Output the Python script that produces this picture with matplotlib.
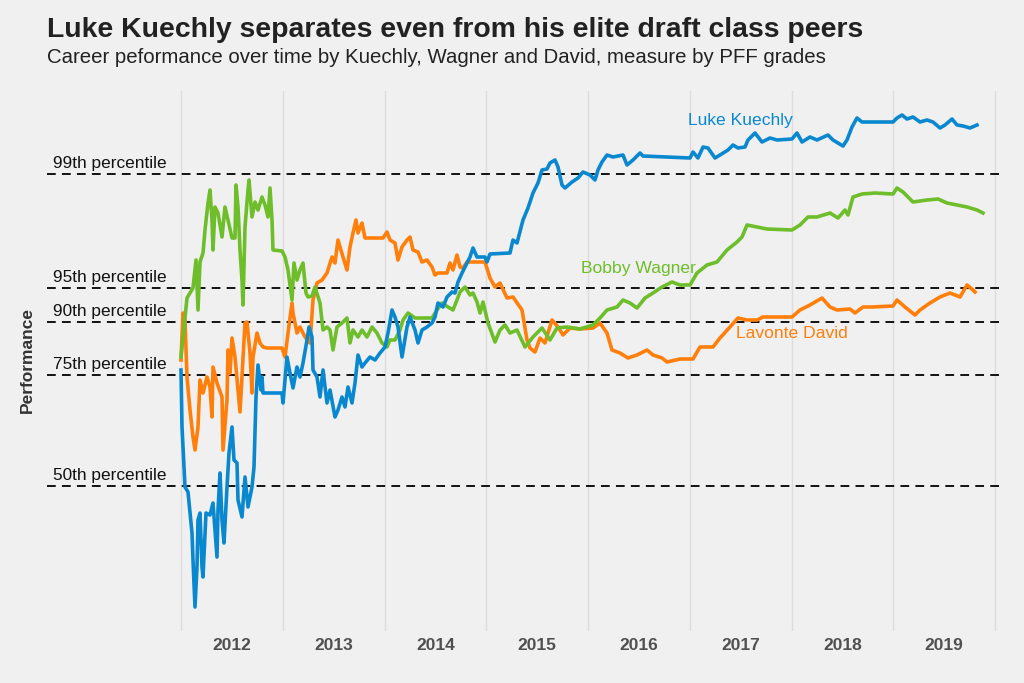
import matplotlib
matplotlib.use('Agg')
from matplotlib import pyplot as plt

# career timeline units (one season = 101.75) and performance index (higher is better)
SEASON_LEN = 101.75
seasons = ['2012', '2013', '2014', '2015', '2016', '2017', '2018', '2019']

pct_labels = ['99th percentile', '95th percentile', '90th percentile', '75th percentile', '50th percentile']
pct_levels = [509, 395, 361, 308, 197]

kuechly_x = [0, 1, 4, 7, 11, 12, 14, 16, 17, 19, 21, 22, 25, 29, 32, 36, 37, 39, 41, 43, 46, 48, 51, 53,
             56, 57, 61, 64, 67, 71, 73, 75, 77, 80, 81, 82, 101, 102, 106, 109, 112, 116, 119, 122, 126,
             128, 131, 132, 136, 139, 142, 146, 149, 154, 157, 161, 164, 167, 171, 174, 177, 181, 184, 189,
             194, 199, 204, 207, 211, 214, 217, 221, 226, 229, 234, 237, 241, 246, 251, 254, 257, 262, 266,
             271, 274, 277, 281, 284, 289, 292, 296, 304, 306, 309, 329, 332, 336, 342, 347, 352, 357, 361,
             366, 369, 374, 377, 381, 384, 391, 397, 402, 409, 414, 417, 421, 426, 432, 442, 446, 452, 459,
             462, 509, 512, 517, 522, 527, 534, 539, 547, 552, 557, 564, 567, 574, 581, 589, 596, 611, 616,
             621, 629, 636, 647, 652, 662, 666, 671, 676, 681, 687, 712, 716, 721, 726, 732, 739, 746, 752,
             759, 764, 771, 776, 782, 789, 796]
kuechly_y = [313, 256, 196, 191, 150, 123, 76, 116, 163, 170, 116, 106, 170, 168, 180, 126, 173, 210, 163,
             140, 196, 230, 256, 223, 220, 183, 166, 206, 176, 196, 216, 286, 318, 293, 306, 290, 290, 280,
             326, 310, 295, 316, 306, 320, 343, 356, 346, 313, 306, 286, 313, 280, 293, 266, 273, 286, 276,
             296, 280, 300, 328, 316, 320, 326, 323, 330, 336, 350, 373, 366, 356, 326, 356, 366, 353, 340,
             353, 356, 360, 366, 380, 376, 386, 391, 390, 401, 410, 416, 426, 435, 426, 426, 421, 429, 430,
             443, 440, 463, 475, 490, 500, 513, 514, 520, 523, 516, 498, 495, 501, 505, 511, 508, 503, 513,
             521, 528, 526, 528, 518, 523, 530, 527, 525, 531, 525, 536, 535, 525, 528, 533, 538, 535, 536,
             543, 550, 541, 545, 543, 544, 550, 541, 546, 543, 548, 543, 537, 543, 556, 565, 561, 561, 561,
             565, 568, 564, 566, 561, 563, 561, 555, 558, 564, 558, 557, 555, 558]

wagner_x = [0, 6, 9, 12, 15, 17, 19, 22, 24, 27, 29, 31, 32, 34, 37, 41, 44, 47, 51, 54, 55, 57, 59, 61,
            62, 64, 67, 68, 71, 74, 77, 81, 84, 87, 89, 91, 92, 101, 104, 107, 111, 113, 116, 119, 122, 125,
            127, 131, 134, 139, 142, 146, 149, 152, 156, 161, 166, 169, 172, 177, 181, 186, 191, 196, 201,
            206, 209, 214, 219, 222, 227, 234, 251, 256, 261, 267, 272, 276, 279, 284, 289, 292, 296, 299,
            302, 307, 314, 319, 324, 329, 336, 344, 352, 361, 369, 376, 386, 399, 412, 419, 426, 436, 442,
            449, 456, 464, 472, 481, 491, 499, 509, 516, 526, 536, 546, 556, 561, 566, 576, 586, 611, 619,
            627, 636, 649, 657, 664, 667, 672, 681, 694, 712, 716, 722, 732, 746, 757, 766, 776, 786, 796, 802]
wagner_y = [326, 385, 390, 395, 423, 373, 421, 430, 453, 480, 493, 463, 433, 476, 470, 446, 476, 463, 445,
            445, 498, 476, 433, 403, 378, 456, 493, 503, 466, 481, 473, 486, 478, 466, 495, 463, 433, 432,
            426, 413, 383, 420, 403, 413, 420, 390, 386, 387, 396, 380, 353, 356, 353, 333, 356, 360, 365,
            340, 353, 346, 353, 346, 356, 350, 340, 336, 343, 343, 353, 363, 370, 365, 365, 373, 380, 376,
            373, 383, 391, 396, 388, 390, 381, 370, 381, 360, 341, 353, 358, 350, 353, 336, 346, 355, 343,
            355, 356, 354, 358, 365, 373, 376, 383, 380, 375, 385, 390, 396, 401, 398, 398, 410, 418, 421,
            433, 441, 446, 458, 456, 454, 453, 458, 466, 466, 470, 465, 473, 468, 486, 489, 490, 489, 495,
            491, 481, 483, 484, 480, 478, 476, 473, 470]

david_x = [0, 2, 4, 6, 9, 12, 14, 17, 19, 22, 26, 29, 31, 32, 36, 41, 42, 46, 47, 49, 51, 54, 59, 64, 66,
           69, 71, 72, 76, 79, 82, 86, 101, 104, 107, 111, 112, 116, 119, 124, 129, 132, 136, 141, 146, 151,
           154, 157, 162, 166, 169, 172, 175, 177, 181, 184, 202, 206, 209, 214, 217, 221, 226, 229, 232,
           237, 241, 246, 251, 254, 257, 266, 269, 272, 276, 279, 282, 286, 304, 309, 314, 319, 326, 332,
           341, 346, 349, 354, 359, 364, 371, 377, 382, 389, 399, 412, 419, 426, 431, 439, 447, 456, 466,
           472, 481, 486, 499, 512, 519, 532, 539, 549, 557, 566, 576, 582, 592, 611, 619, 629, 641, 649,
           656, 669, 674, 682, 691, 712, 716, 724, 734, 739, 749, 759, 769, 779, 786, 792, 794]
david_y = [323, 370, 363, 306, 273, 246, 233, 256, 303, 290, 306, 296, 266, 316, 300, 286, 233, 283, 333,
           310, 345, 326, 271, 360, 361, 330, 290, 326, 350, 340, 336, 335, 335, 326, 350, 380, 370, 350,
           356, 346, 340, 383, 400, 403, 410, 426, 420, 443, 426, 413, 436, 450, 463, 450, 460, 445, 445,
           451, 443, 440, 423, 436, 443, 446, 433, 431, 421, 423, 416, 408, 410, 410, 420, 413, 428, 416,
           415, 421, 421, 405, 396, 400, 385, 386, 373, 343, 335, 331, 345, 340, 363, 356, 348, 355, 354,
           355, 360, 350, 333, 330, 325, 328, 333, 328, 325, 321, 324, 324, 336, 336, 345, 356, 365, 363,
           363, 366, 366, 366, 373, 378, 385, 376, 373, 374, 370, 376, 376, 377, 383, 376, 368, 373, 380,
           386, 390, 386, 398, 393, 391]

BLUE = '#0A88CF'
GREEN = '#6DBE2A'
ORANGE = '#FF7F0A'
BG = '#F0F0F0'
SANS = ['Liberation Sans', 'DejaVu Sans']

fig = plt.figure(figsize=(10.24, 6.83), dpi=100, facecolor=BG)
ax = fig.add_axes([47 / 1024, 1 - 631 / 683, 953 / 1024, 540 / 683], facecolor=BG)
ax.set_xlim(-134, 819)
ax.set_ylim(52, 592)

# season boundaries
for i in range(len(seasons) + 1):
    ax.axvline(i * SEASON_LEN, color='#DCDCDC', lw=1.0, zorder=1)

for lab, lvl in zip(pct_labels, pct_levels):
    ax.axhline(lvl, color='#111111', lw=1.4, ls=(0, (4.5, 3.2)), zorder=2)
    ax.text(-128, lvl + 3, lab, fontsize=12.4, color='#111111', ha='left', va='bottom', family=SANS)

ax.plot(david_x, david_y, color=ORANGE, lw=2.6, zorder=3, solid_joinstyle='round')
ax.plot(wagner_x, wagner_y, color=GREEN, lw=2.6, zorder=4, solid_joinstyle='round')
ax.plot(kuechly_x, kuechly_y, color=BLUE, lw=2.6, zorder=5, solid_joinstyle='round')

ax.text(507, 562, 'Luke Kuechly', color=BLUE, fontsize=12.6, va='center', family=SANS)
ax.text(400, 414, 'Bobby Wagner', color=GREEN, fontsize=12.6, va='center', family=SANS)
ax.text(555, 349, 'Lavonte David', color=ORANGE, fontsize=12.6, va='center', family=SANS)

ax.set_xticks([(i + 0.5) * SEASON_LEN for i in range(len(seasons))])
ax.set_xticklabels(seasons, fontsize=12.5, fontweight='bold', color='#505050', family=SANS)
ax.tick_params(axis='x', length=0, pad=5)
ax.set_yticks([])
for s in ax.spines.values():
    s.set_visible(False)

fig.text(27 / 1024, 1 - 360 / 683, 'Performance', rotation=90, ha='center', va='center',
         fontsize=12.5, fontweight='bold', color='#333333', family=SANS)
fig.text(47 / 1024, 1 - 37 / 683, 'Luke Kuechly separates even from his elite draft class peers',
         fontsize=20.4, fontweight='bold', color='#222222', ha='left', va='baseline', family=SANS)
fig.text(47 / 1024, 1 - 63 / 683, 'Career peformance over time by Kuechly, Wagner and David, measure by PFF grades',
         fontsize=14.7, color='#222222', ha='left', va='baseline', family=SANS)

fig.savefig('out.png', dpi=100, facecolor=BG)
